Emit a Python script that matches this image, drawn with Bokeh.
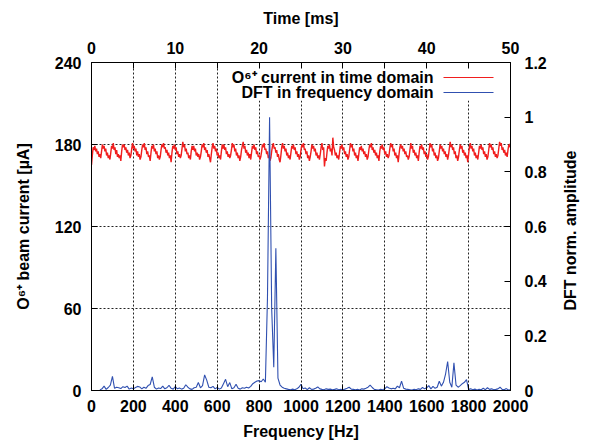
import math
from bokeh.plotting import figure
from bokeh.models import Range1d, LinearAxis, FixedTicker, Label, BoxAnnotation
from bokeh.embed import file_html
from bokeh.resources import INLINE

# ---------------- data ----------------
time_ms = [round(i * 0.1, 1) for i in range(501)]
current_uA = [
    165, 172, 178, 176, 179, 175, 177, 173, 175, 171, 173, 170,
    175, 180, 177, 179, 175, 177, 172, 174, 170, 172, 169, 174,
    179, 177, 181, 176, 178, 173, 176, 171, 173, 170, 172, 168,
    175, 180, 178, 180, 176, 178, 174, 176, 172, 174, 170, 172,
    177, 181, 177, 179, 175, 177, 172, 175, 171, 173, 169, 171,
    176, 180, 178, 181, 176, 178, 173, 175, 171, 172, 168, 174,
    179, 177, 180, 175, 177, 173, 175, 170, 172, 169, 171, 176,
    180, 178, 181, 177, 178, 174, 176, 172, 174, 170, 172, 167,
    174, 179, 177, 180, 176, 178, 173, 175, 171, 173, 170, 172,
    177, 182, 178, 180, 175, 177, 173, 174, 170, 172, 169, 175,
    179, 176, 179, 175, 177, 172, 174, 171, 173, 169, 171, 175,
    180, 178, 181, 176, 178, 174, 176, 171, 173, 170, 167, 173,
    178, 181, 177, 179, 175, 177, 172, 174, 170, 172, 169, 175,
    180, 177, 180, 176, 178, 173, 175, 171, 173, 170, 172, 176,
    181, 178, 180, 175, 177, 172, 174, 170, 172, 168, 171, 176,
    179, 182, 177, 179, 174, 176, 172, 174, 170, 173, 169, 174,
    179, 177, 180, 176, 178, 173, 175, 171, 172, 169, 171, 175,
    180, 178, 181, 176, 177, 173, 175, 170, 172, 168, 170, 175,
    179, 181, 177, 178, 174, 176, 171, 173, 169, 167, 172, 178,
    181, 177, 179, 175, 177, 172, 174, 170, 172, 169, 174, 179,
    177, 180, 176, 178, 173, 175, 171, 173, 169, 171, 176, 180,
    178, 181, 176, 177, 173, 175, 170, 172, 168, 171, 175, 180,
    177, 179, 175, 177, 172, 174, 170, 172, 169, 173, 178, 181,
    176, 178, 164, 170, 168, 174, 179, 177, 180, 175, 177, 172,
    185, 178, 176, 172, 174, 170, 172, 169, 174, 179, 177, 180,
    176, 178, 173, 175, 171, 173, 169, 171, 176, 181, 178, 180,
    175, 177, 172, 174, 170, 172, 168, 173, 178, 176, 179, 175,
    177, 173, 175, 171, 173, 169, 171, 176, 180, 178, 181, 176,
    178, 174, 176, 172, 174, 170, 172, 168, 175, 179, 177, 180,
    176, 178, 173, 175, 171, 173, 170, 172, 177, 181, 178, 180,
    175, 177, 172, 174, 170, 172, 167, 173, 178, 180, 177, 179,
    175, 177, 173, 175, 171, 172, 169, 171, 176, 181, 177, 179,
    174, 176, 172, 174, 170, 172, 168, 174, 179, 177, 180, 176,
    178, 173, 175, 171, 173, 169, 171, 176, 181, 178, 180, 175,
    177, 172, 174, 170, 172, 168, 170, 175, 180, 177, 179, 175,
    177, 173, 175, 171, 173, 169, 172, 177, 182, 178, 180, 176,
    178, 173, 175, 170, 172, 168, 171, 176, 180, 177, 179, 174,
    176, 172, 174, 170, 172, 167, 173, 178, 181, 177, 179, 175,
    177, 172, 174, 170, 172, 169, 174, 179, 177, 180, 176, 178,
    173, 175, 171, 173, 169, 171, 176, 181, 178, 180, 176, 178,
    173, 175, 171, 173, 170, 172, 177, 182, 179, 181, 176, 178,
    174, 176, 172, 174, 171, 176, 180, 178, 181,
]

freq_hz = list(range(40, 2001, 10))
dft_amp = [
    0.002, 0.006, 0.016, 0.004, 0.011, 0.020,
    0.052, 0.008, 0.012, 0.010, 0.007, 0.014, 0.011, 0.016, 0.005, 0.009,
    0.006, 0.011, 0.015, 0.013, 0.006, 0.012, 0.008, 0.018, 0.022, 0.050,
    0.012, 0.005, 0.009, 0.007, 0.016, 0.006, 0.010, 0.019, 0.008, 0.005,
    0.014, 0.006, 0.009, 0.005, 0.008, 0.021, 0.012, 0.006, 0.004, 0.010,
    0.012, 0.029, 0.010, 0.018, 0.057, 0.038, 0.012, 0.010, 0.015, 0.006,
    0.011, 0.005, 0.009, 0.025, 0.041, 0.014, 0.029, 0.006, 0.010, 0.023,
    0.008, 0.005, 0.010, 0.008, 0.012, 0.009, 0.015, 0.025, 0.030, 0.035,
    0.036, 0.032, 0.042, 0.030, 0.340, 1.000, 0.300, 0.085, 0.520, 0.045,
    0.020, 0.012, 0.008, 0.006, 0.004, 0.003, 0.005, 0.003, 0.006, 0.012,
    0.023, 0.006, 0.009, 0.003, 0.010, 0.004, 0.005, 0.008, 0.013, 0.006,
    0.004, 0.003, 0.006, 0.004, 0.005, 0.003, 0.004, 0.006, 0.003, 0.004,
    0.003, 0.005, 0.008, 0.012, 0.005, 0.004, 0.003, 0.004, 0.002, 0.006,
    0.005, 0.008, 0.012, 0.020, 0.011, 0.004, 0.003, 0.002, 0.004, 0.003,
    0.006, 0.014, 0.009, 0.006, 0.008, 0.006, 0.016, 0.010, 0.034, 0.008,
    0.005, 0.004, 0.003, 0.002, 0.004, 0.003, 0.006, 0.004, 0.011, 0.006,
    0.010, 0.018, 0.006, 0.015, 0.008, 0.012, 0.034, 0.016, 0.030, 0.060,
    0.106, 0.030, 0.012, 0.101, 0.020, 0.012, 0.018, 0.025, 0.030, 0.040,
    0.004, 0.006, 0.003, 0.005, 0.002, 0.004, 0.003, 0.008, 0.003, 0.010,
    0.004, 0.006, 0.003, 0.004, 0.006, 0.012, 0.004, 0.003, 0.007, 0.002, 0.003,
]

freq_ticks = [0, 200, 400, 600, 800, 1000, 1200, 1400, 1600, 1800, 2000]
current_ticks = [0, 60, 120, 180, 240]
time_ticks = [0, 10, 20, 30, 40, 50]
time_minor_ticks = [5, 15, 25, 35, 45]
dft_ticks = [0, 0.2, 0.4, 0.6, 0.8, 1.0, 1.2]

FONT = "Liberation Sans"
FS = "16px"
RED = "#f01e1e"
BLUE = "#3050b0"

p = figure(width=590, height=445, output_backend="svg", toolbar_location=None,
           x_range=Range1d(0, 2000), y_range=Range1d(0, 240),
           min_border_left=91, min_border_right=78, min_border_top=62,
           min_border_bottom=55)
p.extra_x_ranges = {"time": Range1d(0, 50)}
p.extra_y_ranges = {"dft": Range1d(0, 1.2)}
p.background_fill_color = "white"
p.border_fill_color = "white"
p.outline_line_color = "black"
p.outline_line_width = 1


def style_axis(ax):
    ax.major_tick_in = 6
    ax.major_tick_out = 0
    ax.minor_tick_in = 0
    ax.minor_tick_out = 0
    ax.axis_line_color = "black"
    ax.major_tick_line_color = "black"
    ax.major_label_text_font = FONT
    ax.major_label_text_font_style = "bold"
    ax.major_label_text_font_size = FS
    ax.major_label_text_color = "black"
    ax.axis_label_text_font = FONT
    ax.axis_label_text_font_style = "bold"
    ax.axis_label_text_font_size = FS
    ax.axis_label_text_color = "black"


xb = p.xaxis[0]
xb.ticker = FixedTicker(ticks=freq_ticks)
xb.axis_label = "Frequency [Hz]"
style_axis(xb)
xb.major_label_standoff = 9
xb.axis_label_standoff = 8

yl = p.yaxis[0]
yl.ticker = FixedTicker(ticks=current_ticks)
yl.axis_label = "O\u2076\u207a beam current [\u00b5A]"
style_axis(yl)
yl.major_label_standoff = 10
yl.axis_label_standoff = 20

xt = LinearAxis(x_range_name="time", axis_label="Time [ms]",
                ticker=FixedTicker(ticks=time_ticks, minor_ticks=time_minor_ticks))
style_axis(xt)
xt.minor_tick_in = 6
xt.minor_tick_line_color = "black"
xt.major_label_standoff = 9
xt.axis_label_standoff = 12
p.add_layout(xt, "above")

yr = LinearAxis(y_range_name="dft", ticker=FixedTicker(ticks=dft_ticks),
                major_label_overrides={0: "0", 1: "1"})
style_axis(yr)
yr.major_label_standoff = 14
props = yr.properties()
if "axis_label_orientation" in props and "axis_label_align" in props:
    # reads bottom-to-top; anchored at the bottom of the axis, padded up to the middle
    yr.axis_label = "\u00a0" * 18 + "DFT norm. amplitude"
    yr.axis_label_orientation = math.pi / 2
    yr.axis_label_align = "start"
    yr.axis_label_standoff = 21
else:
    yr.axis_label = "DFT norm. amplitude"
    yr.axis_label_orientation = "vertical"
    yr.axis_label_standoff = 21
p.add_layout(yr, "right")

for g in (p.xgrid[0], p.ygrid[0]):
    g.grid_line_color = "#222222"
    g.grid_line_dash = "2 2"
    g.grid_line_width = 1
p.xgrid[0].ticker = xb.ticker
p.ygrid[0].ticker = yl.ticker

# legend background (covers grid)
p.add_layout(BoxAnnotation(left=134, right=421, bottom=290, top=328,
                           left_units="screen", right_units="screen",
                           bottom_units="screen", top_units="screen",
                           fill_color="white", fill_alpha=1.0, line_color=None,
                           level="underlay"))

p.line(time_ms, current_uA, x_range_name="time", color=RED, line_width=1.4)
p.line(freq_hz, dft_amp, y_range_name="dft", color=BLUE, line_width=1.1)

# legend
leg_items = [("O\u2076\u207a current in time domain", 313, RED),
             ("DFT in frequency domain", 298, BLUE)]
for txt, yy, col in leg_items:
    p.add_layout(Label(x=342, y=yy, x_units="screen", y_units="screen", text=txt,
                       text_align="right", text_baseline="middle",
                       text_font=FONT, text_font_style="bold", text_font_size=FS,
                       text_color="black"))
    p.add_layout(BoxAnnotation(left=352, right=402, bottom=yy - 0.5, top=yy + 0.5,
                               left_units="screen", right_units="screen",
                               bottom_units="screen", top_units="screen",
                               fill_color=col, fill_alpha=1.0, line_color=None))

open("out.html", "w").write(file_html(p, INLINE))
